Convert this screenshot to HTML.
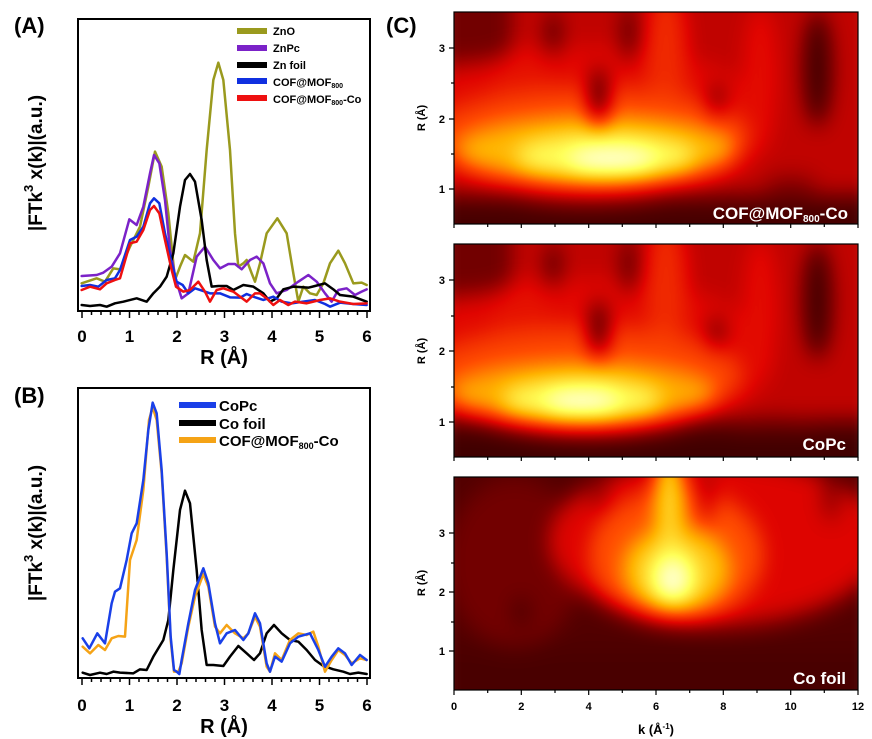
<!DOCTYPE html>
<html><head><meta charset="utf-8"><style>
html,body{margin:0;padding:0;background:#fff;}
body{width:872px;height:739px;position:relative;overflow:hidden;font-family:"Liberation Sans",Arial,sans-serif;}
svg{position:absolute;left:0;top:0;}
</style></head><body>
<svg width="872" height="739" viewBox="0 0 872 739" font-family="Liberation Sans, Arial, sans-serif" font-weight="bold">
<defs>
<filter id="hot" x="0" y="0" width="1" height="1" color-interpolation-filters="sRGB">
<feGaussianBlur stdDeviation="3 1.7" edgeMode="duplicate"/>
<feComponentTransfer>
<feFuncR type="table" tableValues="0.17 0.5 0.88 1 1 1 1"/>
<feFuncG type="table" tableValues="0 0 0.02 0.3 0.7 1 1"/>
<feFuncB type="table" tableValues="0 0 0 0 0 0.35 1"/>
</feComponentTransfer>
</filter>
</defs>

<text x="14" y="33" font-size="22">(A)</text>
<text x="14" y="403" font-size="22">(B)</text>
<text x="386" y="33" font-size="22">(C)</text>

<!-- Panel A -->
<rect x="78" y="19" width="292" height="292" fill="none" stroke="#000" stroke-width="2"/>
<g stroke="#000" stroke-width="1.5">
<path d="M82 311v7M91.5 311v4M101 311v4M110.5 311v4M120 311v4M129.5 311v7M139 311v4M148.5 311v4M158 311v4M167.5 311v4M177 311v7M186.5 311v4M196 311v4M205.5 311v4M215 311v4M224.5 311v7M234 311v4M243.5 311v4M253 311v4M262.5 311v4M272 311v7M281.5 311v4M291 311v4M300.5 311v4M310 311v4M319.5 311v7M329 311v4M338.5 311v4M348 311v4M357.5 311v4M367 311v7"/>
</g>
<g font-size="17" text-anchor="middle">
<text x="82" y="342">0</text><text x="129.5" y="342">1</text><text x="177" y="342">2</text><text x="224.5" y="342">3</text><text x="272" y="342">4</text><text x="319.5" y="342">5</text><text x="367" y="342">6</text>
<text x="224" y="364" font-size="20">R (Å)</text>
</g>
<text transform="translate(42,163) rotate(-90)" font-size="19" text-anchor="middle">|FTk<tspan dy="-9" font-size="13">3</tspan><tspan dy="9"> x(k)|(a.u.)</tspan></text>
<g transform="scale(0.33333)" fill="none" stroke-width="7.5" stroke-linejoin="round" stroke-linecap="round">
<polyline stroke="#9a9a1e" points="245,850 290,835 315,845 340,805 360,808 390,740 420,680 445,560 465,455 485,500 505,640 525,840 540,800 555,765 580,785 600,700 620,450 640,240 655,188 670,240 690,450 705,700 715,800 730,790 740,780 755,820 765,845 780,790 800,700 832,655 860,700 880,820 895,905 910,860 930,880 950,885 970,850 990,790 1015,752 1035,790 1060,850 1085,848 1100,855"/>
<polyline stroke="#7b22c8" points="245,828 290,825 310,818 335,800 360,760 388,658 410,675 430,620 450,520 462,465 478,490 495,600 510,750 528,840 545,895 565,880 590,770 615,740 640,780 660,805 685,792 705,792 725,808 750,780 770,770 790,790 810,850 830,880 860,870 895,845 925,825 950,845 975,880 995,905 1015,870 1040,865 1065,885 1085,875 1100,868"/>
<polyline stroke="#000" points="245,915 270,918 300,915 320,920 345,910 370,905 410,895 440,905 460,880 480,860 500,830 520,760 540,620 555,540 570,522 585,545 605,660 620,780 635,860 655,858 680,858 700,870 730,855 760,860 790,880 810,905 830,895 850,868 880,860 925,863 945,858 975,850 1000,868 1020,885 1060,890 1100,905"/>
<polyline stroke="#1030e0" points="245,858 270,855 295,860 320,840 345,835 360,810 390,720 410,710 430,680 450,610 462,595 478,610 495,700 515,790 530,845 548,855 565,880 585,865 600,870 630,880 660,880 690,892 720,893 740,882 760,890 790,900 820,890 845,905 875,910 910,905 945,900 975,912 990,920 1020,908 1060,912 1100,915"/>
<polyline stroke="#ee1010" points="245,870 270,860 300,868 320,850 345,840 360,835 390,730 410,725 430,690 450,630 462,618 478,640 495,720 515,810 528,860 550,875 570,870 595,845 615,875 630,905 650,870 670,865 700,875 720,890 740,905 765,880 780,880 800,895 820,915 840,900 865,915 885,905 920,910 960,900 990,895 1020,905 1060,912 1100,910"/>
</g>
<g>
<rect x="237" y="28" width="30" height="6" fill="#9a9a1e"/>
<rect x="237" y="45" width="30" height="6" fill="#7b22c8"/>
<rect x="237" y="62" width="30" height="6" fill="#000"/>
<rect x="237" y="78" width="30" height="6" fill="#1030e0"/>
<rect x="237" y="95" width="30" height="6" fill="#ee1010"/>
<g font-size="11">
<text x="273" y="35">ZnO</text><text x="273" y="52">ZnPc</text><text x="273" y="69">Zn foil</text>
<text x="273" y="86">COF@MOF<tspan font-size="7" dy="2">800</tspan></text>
<text x="273" y="103">COF@MOF<tspan font-size="7" dy="2">800</tspan><tspan dy="-2">-Co</tspan></text>
</g>
</g>

<!-- Panel B -->
<rect x="78" y="388" width="292" height="290" fill="none" stroke="#000" stroke-width="2"/>
<g stroke="#000" stroke-width="1.5">
<path d="M82 678v7M91.5 678v4M101 678v4M110.5 678v4M120 678v4M129.5 678v7M139 678v4M148.5 678v4M158 678v4M167.5 678v4M177 678v7M186.5 678v4M196 678v4M205.5 678v4M215 678v4M224.5 678v7M234 678v4M243.5 678v4M253 678v4M262.5 678v4M272 678v7M281.5 678v4M291 678v4M300.5 678v4M310 678v4M319.5 678v7M329 678v4M338.5 678v4M348 678v4M357.5 678v4M367 678v7"/>
</g>
<g font-size="17" text-anchor="middle">
<text x="82" y="711">0</text><text x="129.5" y="711">1</text><text x="177" y="711">2</text><text x="224.5" y="711">3</text><text x="272" y="711">4</text><text x="319.5" y="711">5</text><text x="367" y="711">6</text>
<text x="224" y="733" font-size="20">R (Å)</text>
</g>
<text transform="translate(42,533) rotate(-90)" font-size="19" text-anchor="middle">|FTk<tspan dy="-9" font-size="13">3</tspan><tspan dy="9"> x(k)|(a.u.)</tspan></text>
<g transform="translate(0,370) scale(0.33333)" fill="none" stroke-width="7.5" stroke-linejoin="round" stroke-linecap="round">
<polyline stroke="#000" points="248,908 270,915 300,908 320,912 340,905 360,908 400,910 420,898 440,900 460,860 490,810 505,750 520,600 540,420 555,362 570,400 590,600 605,780 620,885 640,885 670,888 690,860 715,828 740,850 762,870 780,850 800,790 822,765 845,790 870,810 895,815 920,840 945,870 970,888 1000,898 1030,905 1050,912 1075,908 1100,912"/>
<polyline stroke="#f5a316" points="248,830 270,850 295,825 315,840 335,805 355,798 375,800 390,570 410,510 430,360 447,150 458,112 470,150 485,310 500,560 512,810 522,905 535,905 545,880 565,770 585,680 610,612 625,650 645,770 660,790 680,765 705,790 730,805 745,790 765,740 780,770 800,890 810,905 825,850 845,870 870,810 895,790 920,795 940,785 955,830 975,905 995,870 1015,840 1035,855 1055,880 1080,865 1100,870"/>
<polyline stroke="#1a40e8" points="248,805 268,835 292,790 315,820 335,700 345,665 360,655 380,570 395,490 410,460 430,330 445,180 458,98 470,130 485,300 500,550 512,800 522,900 530,905 538,912 545,870 565,760 585,660 610,595 625,640 645,760 660,820 680,790 705,780 730,810 745,790 765,730 780,760 800,880 810,905 825,860 845,875 870,820 895,800 930,790 955,840 975,890 995,860 1015,835 1035,850 1055,885 1080,855 1100,870"/>
</g>
<rect x="179" y="402" width="37" height="6" fill="#1a40e8"/>
<rect x="179" y="420" width="37" height="6" fill="#000"/>
<rect x="179" y="437" width="37" height="6" fill="#f5a316"/>
<g font-size="15">
<text x="219" y="411">CoPc</text><text x="219" y="429">Co foil</text>
<text x="219" y="446">COF@MOF<tspan font-size="9" dy="3">800</tspan><tspan dy="-3">-Co</tspan></text>
</g>

<!-- Panel C heatmaps -->
<svg x="454" y="12" width="404" height="212" viewBox="0 0 120 30" preserveAspectRatio="none">
<g filter="url(#hot)">
<rect x="-5" y="-5" width="130" height="40" fill="rgb(7%,7%,7%)"/>
<rect x="-5" y="-5" width="130" height="31" fill="rgb(28%,28%,28%)"/>
<rect x="-5" y="-5" width="22" height="12" fill="rgb(14%,14%,14%)"/>
<ellipse cx="40" cy="16" rx="55" ry="11" fill="rgb(34%,34%,34%)"/>
<ellipse cx="63" cy="6" rx="6" ry="10" fill="rgb(42%,42%,42%)"/>
<ellipse cx="91" cy="9" rx="5" ry="10" fill="rgb(35%,35%,35%)"/>
<ellipse cx="20" cy="12" rx="9" ry="7" fill="rgb(36%,36%,36%)"/>
<ellipse cx="40" cy="17.5" rx="48" ry="7" fill="rgb(48%,48%,48%)"/>
<ellipse cx="42" cy="19.5" rx="42" ry="4.8" fill="rgb(68%,68%,68%)"/>
<ellipse cx="45" cy="20.5" rx="27" ry="3.2" fill="rgb(84%,84%,84%)"/>
<ellipse cx="47" cy="21" rx="13" ry="1.9" fill="rgb(97%,97%,97%)"/>
<ellipse cx="29.5" cy="3" rx="1.8" ry="3" fill="rgb(4%,4%,4%)"/>
<ellipse cx="43" cy="12" rx="2.5" ry="4" fill="rgb(3%,3%,3%)"/>
<ellipse cx="52" cy="3" rx="1.8" ry="4" fill="rgb(6%,6%,6%)"/>
<ellipse cx="78" cy="12.5" rx="1.8" ry="2" fill="rgb(3%,3%,3%)"/>
<ellipse cx="108" cy="8" rx="4" ry="8" fill="rgb(4%,4%,4%)"/>
<ellipse cx="100" cy="24.5" rx="8" ry="0.9" fill="rgb(12%,12%,12%)"/>
<rect x="-5" y="27.5" width="130" height="10" fill="rgb(5%,5%,5%)"/>
</g>
</svg>
<svg x="454" y="244" width="404" height="213" viewBox="0 0 120 30" preserveAspectRatio="none">
<g filter="url(#hot)">
<rect x="-5" y="-5" width="130" height="40" fill="rgb(5%,5%,5%)"/>
<rect x="-5" y="-5" width="130" height="30" fill="rgb(28%,28%,28%)"/>
<rect x="-5" y="-5" width="22" height="12" fill="rgb(14%,14%,14%)"/>
<ellipse cx="40" cy="16" rx="55" ry="11" fill="rgb(34%,34%,34%)"/>
<ellipse cx="63" cy="6" rx="6" ry="10" fill="rgb(42%,42%,42%)"/>
<ellipse cx="91" cy="9" rx="5" ry="10" fill="rgb(35%,35%,35%)"/>
<ellipse cx="20" cy="12" rx="9" ry="7" fill="rgb(36%,36%,36%)"/>
<ellipse cx="38" cy="18.5" rx="48" ry="7" fill="rgb(48%,48%,48%)"/>
<ellipse cx="38" cy="21" rx="40" ry="4.5" fill="rgb(66%,66%,66%)"/>
<ellipse cx="38" cy="22" rx="24" ry="3" fill="rgb(84%,84%,84%)"/>
<ellipse cx="38" cy="22.3" rx="11" ry="1.8" fill="rgb(97%,97%,97%)"/>
<ellipse cx="29.5" cy="3" rx="1.8" ry="3" fill="rgb(4%,4%,4%)"/>
<ellipse cx="43" cy="12" rx="2.5" ry="4" fill="rgb(3%,3%,3%)"/>
<ellipse cx="52" cy="3" rx="1.8" ry="4" fill="rgb(6%,6%,6%)"/>
<ellipse cx="78" cy="12.5" rx="1.8" ry="2" fill="rgb(3%,3%,3%)"/>
<ellipse cx="108" cy="8" rx="4" ry="8" fill="rgb(4%,4%,4%)"/>
<ellipse cx="95" cy="26" rx="14" ry="1.2" fill="rgb(8%,8%,8%)"/>
<rect x="-5" y="28" width="130" height="10" fill="rgb(4%,4%,4%)"/>
</g>
</svg>
<svg x="454" y="477" width="404" height="213" viewBox="0 0 120 30" preserveAspectRatio="none">
<g filter="url(#hot)">
<rect x="-5" y="-5" width="130" height="40" fill="rgb(8%,8%,8%)"/>
<ellipse cx="18" cy="12" rx="20" ry="12" fill="rgb(14%,14%,14%)"/>
<ellipse cx="78" cy="9" rx="50" ry="12" fill="rgb(33%,33%,33%)"/>
<ellipse cx="66" cy="11" rx="26" ry="9.5" fill="rgb(50%,50%,50%)"/>
<ellipse cx="66" cy="13" rx="16" ry="6" fill="rgb(70%,70%,70%)"/>
<ellipse cx="64" cy="3" rx="4" ry="8" fill="rgb(76%,76%,76%)"/>
<ellipse cx="65" cy="14" rx="8" ry="4" fill="rgb(86%,86%,86%)"/>
<ellipse cx="65" cy="14.5" rx="3.5" ry="2.5" fill="rgb(99%,99%,99%)"/>
<ellipse cx="75" cy="3" rx="1.3" ry="3.5" fill="rgb(12%,12%,12%)"/>
<ellipse cx="43" cy="2" rx="2.5" ry="2.5" fill="rgb(20%,20%,20%)"/>
<ellipse cx="20" cy="19" rx="2.5" ry="1.5" fill="rgb(3%,3%,3%)"/>
<ellipse cx="112" cy="3" rx="2.5" ry="3" fill="rgb(18%,18%,18%)"/>
<rect x="-5" y="24" width="130" height="10" fill="rgb(6%,6%,6%)"/>
</g>
</svg>

<g stroke="#000" stroke-width="1.2" fill="none">
<rect x="454" y="12" width="404" height="212"/>
<rect x="454" y="244" width="404" height="213"/>
<rect x="454" y="477" width="404" height="213"/>
<path d="M454 224v4M487.7 224v3M521.3 224v4M555 224v3M588.7 224v4M622.3 224v3M656 224v4M689.7 224v3M723.3 224v4M757 224v3M790.7 224v4M824.3 224v3M858 224v4"/>
<path d="M454 457v4M487.7 457v3M521.3 457v4M555 457v3M588.7 457v4M622.3 457v3M656 457v4M689.7 457v3M723.3 457v4M757 457v3M790.7 457v4M824.3 457v3M858 457v4"/>
<path d="M454 690v5M487.7 690v3M521.3 690v5M555 690v3M588.7 690v5M622.3 690v3M656 690v5M689.7 690v3M723.3 690v5M757 690v3M790.7 690v5M824.3 690v3M858 690v5"/>
<path d="M449 48h5M451 83h3M449 119h5M451 154h3M449 189h5"/>
<path d="M449 280h5M451 316h3M449 351h5M451 387h3M449 422h5"/>
<path d="M449 533h5M451 563h3M449 592h5M451 622h3M449 651h5"/>
</g>
<g font-size="11" text-anchor="end">
<text x="445" y="52">3</text><text x="445" y="123">2</text><text x="445" y="193">1</text>
<text x="445" y="284">3</text><text x="445" y="355">2</text><text x="445" y="426">1</text>
<text x="445" y="537">3</text><text x="445" y="596">2</text><text x="445" y="655">1</text>
</g>
<g font-size="11" font-weight="bold">
<text transform="translate(425,118) rotate(-90)" text-anchor="middle">R (Å)</text>
<text transform="translate(425,351) rotate(-90)" text-anchor="middle">R (Å)</text>
<text transform="translate(425,583) rotate(-90)" text-anchor="middle">R (Å)</text>
</g>
<g font-size="11" text-anchor="middle">
<text x="454" y="710">0</text><text x="521.3" y="710">2</text><text x="588.7" y="710">4</text><text x="656" y="710">6</text><text x="723.3" y="710">8</text><text x="790.7" y="710">10</text><text x="858" y="710">12</text>
<text x="656" y="734" font-size="13">k (Å<tspan font-size="8" dy="-5">-1</tspan><tspan dy="5">)</tspan></text>
</g>
<g font-size="17" fill="#fff" text-anchor="end">
<text x="848" y="219">COF@MOF<tspan font-size="10" dy="3">800</tspan><tspan dy="-3">-Co</tspan></text>
<text x="846" y="450">CoPc</text>
<text x="846" y="684">Co foil</text>
</g>
</svg>
</body></html>
